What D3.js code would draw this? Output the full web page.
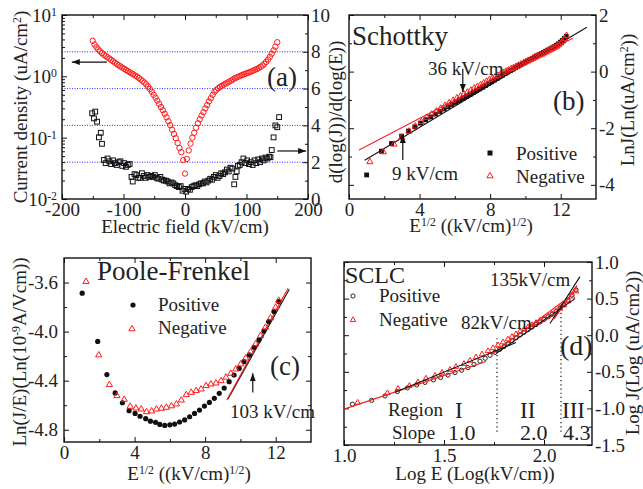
<!DOCTYPE html>
<html>
<head>
<meta charset="utf-8">
<script src="https://cdn.jsdelivr.net/npm/d3@7"></script>
<style>
  body { margin: 0; background: #fff; }
  text { font-family: "Liberation Serif", "Times New Roman", serif; fill: #222; }
</style>
</head>
<body>
<svg id="chart" width="643" height="489"></svg>
<script>
// ---------- (a) J-E and slope ----------
const aField = [-150,-147,-144,-141,-138,-135,-132,-129,-126,-123,-120,-117,-114,-111,-108,-105,-102,-99,-96,-93,-90,-87,-84,-81,-78,-75,-72,-69,-66,-63,-60,-57,-54,-51,-48,-45,-42,-39,-36,-33,-30,-27,-24,-21,-18,-15,-12,-9,-6,-3,0,
  3,6,9,12,15,18,21,24,27,30,33,36,39,42,45,48,51,54,57,60,63,66,69,72,75,78,81,84,87,90,93,96,99,102,105,108,111,114,117,120,123,126,129,132,135,138,141,144,147,150];
const aCurrent = [3.8,3.3,3.0,2.75,2.55,2.4,2.25,2.15,2.05,1.95,1.85,1.76,1.67,1.59,1.52,1.45,1.39,1.33,1.27,1.22,1.17,1.12,1.08,1.03,0.99,0.94,0.89,0.84,0.79,0.74,0.68,0.62,0.56,0.5,0.45,0.4,0.355,0.315,0.28,0.245,0.215,0.185,0.16,0.135,0.115,0.098,0.082,0.068,0.058,0.043,0.026,
  0.045,0.062,0.08,0.1,0.12,0.145,0.172,0.2,0.23,0.26,0.3,0.34,0.39,0.44,0.5,0.56,0.6,0.64,0.67,0.7,0.73,0.76,0.79,0.82,0.85,0.89,0.93,0.96,0.99,1.02,1.05,1.08,1.11,1.14,1.17,1.2,1.24,1.28,1.32,1.37,1.43,1.5,1.6,1.72,1.88,2.08,2.34,2.65,3.05,3.6];
const aSlopeField = [-151,-148,-146,-143,-140,-137,-135,-132,-129,-126,-123,-120,-117,-114,-111,-108,-105,-102,-99,-96,-93,-90,-87,-85,-82,-79,-76,-73,-70,-67,-64,-61,-58,-55,-52,-49,-46,-43,-40,-37,-34,-31,-28,-25,-22,-19,-16,-13,-10,-7,-4,-1,
  2,5,8,11,14,17,20,23,26,29,32,35,38,41,44,47,50,53,56,59,62,65,68,71,74,77,80,82,84,86,89,92,95,98,101,104,107,110,113,116,119,122,125,128,131,134,137,139,141,144,147,150,153];
const aSlope = [4.66,4.38,4.75,4.2,3.35,3.6,3.0,2.12,1.95,2.2,2.05,1.9,2.1,1.95,1.85,2.0,2.05,1.8,1.95,1.75,1.85,1.9,1.2,0.95,1.35,1.3,1.15,1.15,1.4,1.25,1.15,1.3,1.2,1.25,1.2,1.3,1.15,1.1,1.2,1.05,1.0,1.0,0.95,0.85,0.9,0.85,0.75,0.7,0.65,0.7,0.45,0.55,
  0.4,0.55,0.5,0.65,0.7,0.75,0.7,0.8,0.85,0.85,0.95,0.9,1.0,1.1,1.05,1.2,1.3,1.15,1.25,1.4,1.35,1.45,1.6,1.5,1.7,1.65,0.8,1.2,1.5,1.8,1.85,2.0,2.2,1.95,2.1,1.9,2.0,1.85,2.1,1.95,2.15,2.0,2.2,2.1,2.25,2.2,2.3,2.27,2.66,3.35,4.0,3.9,4.45,4.6];
const aGridValues = [2, 4, 6, 8];

// ---------- (b) Schottky ----------
const bPosX = [1.0,1.84,2.41,2.98,3.37,3.73,4.05,4.35,4.63,4.9,5.15,5.39,5.62,5.84,6.06,6.27,6.47,6.67,6.86,7.05,7.23,7.41,7.58,7.75,7.92,8.08,8.24,8.4,8.55,8.7,8.85,9.0,9.15,9.3,9.44,9.58,9.72,9.86,10.0,10.13,10.26,10.39,10.52,10.65,10.78,10.9,11.03,11.15,11.27,11.39,11.51,11.63,11.75,11.86,11.98,12.09,12.2,12.31];
const bPosY = [-3.65,-2.81,-2.54,-2.28,-2.1,-1.95,-1.82,-1.7,-1.6,-1.5,-1.41,-1.32,-1.24,-1.16,-1.09,-1.02,-0.95,-0.88,-0.81,-0.74,-0.67,-0.61,-0.55,-0.49,-0.42,-0.36,-0.3,-0.24,-0.18,-0.12,-0.07,-0.01,0.04,0.09,0.14,0.19,0.24,0.29,0.34,0.38,0.43,0.47,0.52,0.56,0.6,0.64,0.68,0.72,0.76,0.8,0.84,0.88,0.93,0.98,1.04,1.1,1.17,1.25];
const bNegX = [1.18,1.94,2.55,2.98,3.4,3.76,4.1,4.4,4.68,4.95,5.2,5.44,5.67,5.9,6.11,6.32,6.52,6.72,6.91,7.1,7.28,7.46,7.63,7.8,7.96,8.12,8.28,8.44,8.59,8.74,8.89,9.04,9.19,9.33,9.47,9.61,9.75,9.89,10.02,10.15,10.28,10.41,10.54,10.67,10.8,10.92,11.05,11.17,11.29,11.41,11.53,11.65,11.77,11.88,12.0,12.11,12.22,12.33];
const bNegY = [-3.16,-2.81,-2.54,-2.3,-2.08,-1.9,-1.74,-1.6,-1.48,-1.37,-1.27,-1.17,-1.08,-0.99,-0.91,-0.84,-0.77,-0.7,-0.63,-0.56,-0.5,-0.44,-0.38,-0.32,-0.26,-0.21,-0.16,-0.11,-0.06,-0.01,0.04,0.08,0.13,0.17,0.21,0.25,0.29,0.33,0.37,0.41,0.45,0.49,0.53,0.57,0.61,0.64,0.68,0.72,0.76,0.8,0.84,0.88,0.92,0.97,1.03,1.1,1.19,1.3];
const bFitPos = [[0.89, -3.13], [13.48, 1.57]];
const bFitNeg = [[0.57, -2.77], [12.68, 1.18]];

// ---------- (c) Poole-Frenkel ----------
const cPosX = [1.03,1.91,2.43,2.9,3.31,3.69,4.03,4.31,4.63,4.9,5.19,5.43,5.71,6.0,6.27,6.55,6.84,7.12,7.4,7.68,7.96,8.24,8.52,8.8,9.08,9.36,9.64,9.93,10.2,10.5,10.77,11.05,11.33,11.6,11.9,12.17];
const cPosY = [-3.687,-4.08,-4.35,-4.5,-4.58,-4.645,-4.667,-4.69,-4.71,-4.73,-4.74,-4.757,-4.765,-4.76,-4.754,-4.737,-4.72,-4.694,-4.667,-4.64,-4.607,-4.577,-4.544,-4.503,-4.46,-4.408,-4.354,-4.3,-4.245,-4.19,-4.128,-4.068,-3.995,-3.918,-3.837,-3.755];
const cNegX = [1.25,1.97,2.57,3.0,3.41,3.75,4.08,4.38,4.68,4.96,5.24,5.52,5.8,6.09,6.37,6.65,6.93,7.21,7.49,7.77,8.05,8.33,8.61,8.9,9.18,9.46,9.74,10.02,10.3,10.58,10.86,11.14,11.42,11.7,11.99,12.17];
const cNegY = [-3.586,-4.185,-4.427,-4.517,-4.547,-4.604,-4.618,-4.626,-4.648,-4.642,-4.626,-4.62,-4.612,-4.6,-4.585,-4.553,-4.509,-4.49,-4.476,-4.463,-4.435,-4.422,-4.414,-4.395,-4.367,-4.335,-4.3,-4.258,-4.21,-4.158,-4.095,-4.027,-3.959,-3.883,-3.796,-3.74];
const cFitPos = [[9.29, -4.552], [12.77, -3.654]];
const cFitNeg = [[9.23, -4.558], [12.70, -3.646]];

// ---------- (d) SCLC ----------
const dPosX = [1.042,1.138,1.205,1.267,1.317,1.363,1.405,1.447,1.483,1.52,1.555,1.588,1.62,1.65,1.68,1.706,1.73,1.755,1.778,1.8,1.82,1.84,1.86,1.88,1.9,1.92,1.94,1.96,1.98,2.0,2.02,2.04,2.06,2.08,2.1,2.12,2.14,2.16];
const dPosY = [-0.943,-0.89,-0.83,-0.77,-0.72,-0.68,-0.645,-0.61,-0.578,-0.545,-0.51,-0.478,-0.443,-0.4,-0.355,-0.315,-0.275,-0.235,-0.195,-0.155,-0.115,-0.075,-0.035,0.005,0.04,0.075,0.11,0.145,0.18,0.215,0.25,0.285,0.325,0.37,0.42,0.48,0.55,0.62];
const dNegX = [1.068,1.217,1.27,1.327,1.37,1.41,1.455,1.49,1.53,1.56,1.6,1.63,1.66,1.69,1.72,1.745,1.77,1.795,1.82,1.84,1.86,1.88,1.9,1.92,1.94,1.96,1.98,2.0,2.02,2.04,2.06,2.08,2.1,2.12,2.14,2.16];
const dNegY = [-0.91,-0.78,-0.72,-0.68,-0.63,-0.58,-0.54,-0.5,-0.46,-0.42,-0.38,-0.335,-0.29,-0.25,-0.205,-0.165,-0.125,-0.085,-0.045,-0.01,0.025,0.06,0.09,0.12,0.15,0.18,0.21,0.24,0.27,0.3,0.335,0.375,0.42,0.475,0.54,0.61];
const dFitsRed = [[[1.0, -1.01], [1.71, -0.36]], [[1.74, -0.26], [2.1, 0.47]], [[2.05, 0.22], [2.165, 0.68]]];
const dFitsBlack = [[[1.255, -0.78], [1.86, -0.1]], [[1.76, -0.25], [2.155, 0.5]], [[2.03, 0.16], [2.18, 0.8]]];
const dRegionBounds = [[1.765, -0.04, -1.36], [2.085, 0.42, -1.36]];

const FONT = '"Liberation Serif", "Times New Roman", serif';
const RED = '#ff1a1a';
const svg = d3.select('#chart');

svg.append('defs').append('marker')
    .attr('id', 'head')
    .attr('viewBox', '0 0 8 6')
    .attr('refX', 8).attr('refY', 3)
    .attr('markerWidth', 8).attr('markerHeight', 6)
    .attr('markerUnits', 'userSpaceOnUse')
    .attr('orient', 'auto')
  .append('path').attr('d', 'M0,0L8,3L0,6Z').attr('fill', '#111');

// ticks on all four sides, pointing inward
function drawFrame (x, yl, yr, cfg) {
  const [l, r] = x.range();
  const [b, t] = yl.range();
  const g = svg.append('g');
  const put = (axis, tr, vals, size, fmt, pad) => {
    g.append('g').attr('transform', tr)
      .call(axis.tickValues(vals).tickSize(size).tickSizeOuter(0).tickPadding(pad || 3)
        .tickFormat(fmt || (() => '')))
      .call(s => s.select('.domain').remove())
      .attr('font-family', FONT).attr('font-size', 19).attr('color', '#111');
  };
  put(d3.axisBottom(x), `translate(0,${b})`, cfg.xMajor, -5, cfg.xFmt, 3);
  put(d3.axisBottom(x), `translate(0,${b})`, cfg.xMinor, -3);
  put(d3.axisTop(x), `translate(0,${t})`, cfg.xMajor, -5);
  put(d3.axisTop(x), `translate(0,${t})`, cfg.xMinor, -3);
  put(d3.axisLeft(yl), `translate(${l},0)`, cfg.ylMajor, -5, cfg.ylFmt, 6);
  put(d3.axisLeft(yl), `translate(${l},0)`, cfg.ylMinor, -3);
  put(d3.axisRight(yr), `translate(${r},0)`, cfg.yrMajor, -5, cfg.yrFmt, 3);
  put(d3.axisRight(yr), `translate(${r},0)`, cfg.yrMinor, -3);
  g.append('rect')
    .attr('x', l).attr('y', t).attr('width', r - l).attr('height', b - t)
    .attr('fill', 'none').attr('stroke', '#111').attr('stroke-width', 1.4);
}

// text made of pieces, some of them superscripts
function rich (x, y, parts, size, rotate, anchor) {
  const t = svg.append('text')
    .attr('transform', `translate(${x},${y})` + (rotate ? ' rotate(-90)' : ''))
    .attr('text-anchor', anchor || 'middle')
    .attr('font-size', size);
  parts.forEach(p => {
    if (typeof p === 'string') t.append('tspan').text(p);
    else t.append('tspan').attr('baseline-shift', 'super').attr('font-size', size * 0.62).text(p.sup);
  });
  return t;
}
function label (x, y, s, size, anchor) {
  return svg.append('text').attr('x', x).attr('y', y).attr('font-size', size)
    .attr('text-anchor', anchor || 'start').text(s);
}
function arrow (x1, y1, x2, y2) {
  svg.append('line').attr('x1', x1).attr('y1', y1).attr('x2', x2).attr('y2', y2)
    .attr('stroke', '#111').attr('stroke-width', 1.2).attr('marker-end', 'url(#head)');
}
function fitLine (x, y, pts, color) {
  svg.append('line')
    .attr('x1', x(pts[0][0])).attr('y1', y(pts[0][1]))
    .attr('x2', x(pts[1][0])).attr('y2', y(pts[1][1]))
    .attr('stroke', color).attr('stroke-width', 1.1);
}
const tri = d3.symbol(d3.symbolTriangle, 17);
function triangles (x, y, xs, ys, size) {
  const s = d3.symbol(d3.symbolTriangle, size || 17);
  svg.append('g').selectAll('path').data(xs).join('path')
    .attr('d', s)
    .attr('transform', (d, i) => `translate(${x(d)},${y(ys[i]) + 0.8})`)
    .attr('fill', 'none').attr('stroke', RED).attr('stroke-width', 1);
}
const minus = d => String(d).replace('\u2212', '-');

// ================= panel (a) =================
const ax = d3.scaleLinear().domain([-200, 200]).range([62, 308]);
const ayL = d3.scaleLog().domain([0.01, 10]).range([199, 15]);
const ayR = d3.scaleLinear().domain([0, 10]).range([199, 15]);
let logMinor = [];
[0.01, 0.1, 1].forEach(dec => [2, 3, 4, 5, 6, 7, 8, 9].forEach(m => logMinor.push(dec * m)));

svg.append('g').selectAll('line').data(aGridValues).join('line')
    .attr('x1', ax(-200)).attr('x2', ax(200))
    .attr('y1', d => ayR(d)).attr('y2', d => ayR(d))
    .attr('stroke', '#2a2aff').attr('stroke-width', 1).attr('stroke-dasharray', '1,1.5');

drawFrame(ax, ayL, ayR, {
  xMajor: [-200, -100, 0, 100, 200], xMinor: [-150, -50, 50, 150], xFmt: minus,
  ylMajor: [0.01, 0.1, 1, 10], ylMinor: logMinor,
  yrMajor: [0, 2, 4, 6, 8, 10], yrMinor: [1, 3, 5, 7, 9], yrFmt: d => d
});
[0.01, 0.1, 1, 10].forEach(v => {
  rich(57, ayL(v) + 7, ['10', { sup: String(Math.round(Math.log10(v))) }], 19, false, 'end');
});

svg.append('g').selectAll('rect').data(aSlopeField).join('rect')
    .attr('x', d => ax(d) - 2.4)
    .attr('y', (d, i) => ayR(aSlope[i]) - 2.4)
    .attr('width', 4.8).attr('height', 4.8)
    .attr('fill', 'none').attr('stroke', '#111').attr('stroke-width', 1);
svg.append('g').selectAll('circle').data(aField).join('circle')
    .attr('cx', d => ax(d))
    .attr('cy', (d, i) => ayL(aCurrent[i]))
    .attr('r', 2.7)
    .attr('fill', 'none').attr('stroke', RED).attr('stroke-width', 1);

arrow(ax(-127), ayL(1.71), ax(-184), ayL(1.71));
arrow(ax(150), ayR(2.61), ax(197), ayR(2.61));
label(267, 86, '(a)', 27);
rich(27, 107, ['Current density (uA/cm', { sup: '2' }, ')'], 19, true);
rich(342, 112, ['d(log(J))/d(log(E))'], 19, true);
rich(185, 233, ['Electric field (kV/cm)'], 19);

// ================= panel (b) =================
const bx = d3.scaleLinear().domain([0, 14]).range([349, 596]);
const by = d3.scaleLinear().domain([-4.5, 2]).range([199, 15]);
drawFrame(bx, by, by, {
  xMajor: [0, 4, 8, 12], xMinor: [2, 6, 10], xFmt: d => d,
  ylMajor: [-4, -2, 0, 2], ylMinor: [-3, -1, 1],
  yrMajor: [-4, -2, 0, 2], yrMinor: [-3, -1, 1], yrFmt: minus
});
fitLine(bx, by, bFitNeg, RED);
fitLine(bx, by, bFitPos, '#111');
svg.append('g').selectAll('rect').data(bPosX).join('rect')
    .attr('x', d => bx(d) - 2.4)
    .attr('y', (d, i) => by(bPosY[i]) - 2.4)
    .attr('width', 4.8).attr('height', 4.8).attr('fill', '#111');
triangles(bx, by, bNegX, bNegY, 17);
label(352, 45, 'Schottky', 27);
label(553, 110, '(b)', 27);
label(428, 75, '36 kV/cm', 19);
arrow(bx(6.45), by(0.1), bx(6.45), by(-0.72));
label(392, 180, '9 kV/cm', 19);
arrow(bx(3.05), by(-3.12), bx(3.05), by(-2.24));
svg.append('rect').attr('x', 487.5).attr('y', 150.5).attr('width', 5).attr('height', 5).attr('fill', '#111');
svg.append('path').attr('d', tri).attr('transform', 'translate(490,176)')
    .attr('fill', 'none').attr('stroke', RED);
label(516, 160, 'Positive', 19);
label(516, 183, 'Negative', 19);
rich(634, 100, ['LnJ(Ln(uA/cm', { sup: '2' }, '))'], 19, true);
rich(471, 232, ['E', { sup: '1/2' }, ' ((kV/cm)', { sup: '1/2' }, ')'], 19);

// ================= panel (c) =================
const cx = d3.scaleLinear().domain([0, 14]).range([64, 311]);
const cy = d3.scaleLinear().domain([-4.9, -3.4]).range([442, 258]);
drawFrame(cx, cy, cy, {
  xMajor: [0, 4, 8, 12], xMinor: [2, 6, 10], xFmt: d => d,
  ylMajor: [-4.8, -4.4, -4.0, -3.6], ylMinor: [-4.6, -4.2, -3.8], ylFmt: d => d.toFixed(1),
  yrMajor: [-4.8, -4.4, -4.0, -3.6], yrMinor: [-4.6, -4.2, -3.8]
});
fitLine(cx, cy, cFitPos, '#111');
fitLine(cx, cy, cFitNeg, RED);
svg.append('g').selectAll('circle').data(cPosX).join('circle')
    .attr('cx', d => cx(d))
    .attr('cy', (d, i) => cy(cPosY[i]))
    .attr('r', 2.6).attr('fill', '#111');
triangles(cx, cy, cNegX, cNegY, 17);
label(97, 280, 'Poole-Frenkel', 27);
svg.append('circle').attr('cx', 133).attr('cy', 305).attr('r', 2.6).attr('fill', '#111');
svg.append('path').attr('d', tri).attr('transform', 'translate(132,329)')
    .attr('fill', 'none').attr('stroke', RED);
label(158, 311, 'Positive', 19);
label(158, 334, 'Negative', 19);
label(270, 375, '(c)', 27);
label(230, 418, '103 kV/cm', 19);
arrow(cx(10.7), cy(-4.497), cx(10.7), cy(-4.34));
rich(26, 352, ['Ln(J/E)(Ln(10', { sup: '-9' }, 'A/Vcm))'], 19, true);
rich(189, 480, ['E', { sup: '1/2' }, ' ((kV/cm)', { sup: '1/2' }, ')'], 19);

// ================= panel (d) =================
const dx = d3.scaleLinear().domain([1.0, 2.24]).range([344, 592]);
const dy = d3.scaleLinear().domain([-1.5, 1.0]).range([445, 262]);
drawFrame(dx, dy, dy, {
  xMajor: [1.0, 1.5, 2.0], xMinor: [1.25, 1.75], xFmt: d => d.toFixed(1),
  ylMajor: [-1.5, -1, -0.5, 0, 0.5, 1], ylMinor: [-1.25, -0.75, -0.25, 0.25, 0.75],
  yrMajor: [-1.5, -1, -0.5, 0, 0.5, 1], yrMinor: [-1.25, -0.75, -0.25, 0.25, 0.75],
  yrFmt: d => d.toFixed(1)
});
svg.append('g').selectAll('line').data(dRegionBounds).join('line')
    .attr('x1', d => dx(d[0])).attr('x2', d => dx(d[0]))
    .attr('y1', d => dy(d[1])).attr('y2', d => dy(d[2]))
    .attr('stroke', '#111').attr('stroke-width', 1.2).attr('stroke-dasharray', '1.2,3');
svg.append('g').selectAll('circle').data(dPosX).join('circle')
    .attr('cx', d => dx(d))
    .attr('cy', (d, i) => dy(dPosY[i]))
    .attr('r', 2.1).attr('fill', 'none').attr('stroke', '#111').attr('stroke-width', 0.9);
triangles(dx, dy, dNegX, dNegY, 13);
dFitsRed.forEach(p => fitLine(dx, dy, p, RED));
dFitsBlack.forEach(p => fitLine(dx, dy, p, '#111'));
label(345, 283, 'SCLC', 24);
svg.append('circle').attr('cx', 353).attr('cy', 296).attr('r', 2.1)
    .attr('fill', 'none').attr('stroke', '#111').attr('stroke-width', 0.9);
svg.append('path').attr('d', d3.symbol(d3.symbolTriangle, 13)).attr('transform', 'translate(353,320)')
    .attr('fill', 'none').attr('stroke', RED);
label(379, 302, 'Positive', 19);
label(379, 326, 'Negative', 19);
label(461, 329, '82kV/cm', 19);
label(490, 286, '135kV/cm', 19);
label(560, 355, '(d)', 28);
label(388, 416, 'Region', 19);
label(455, 418, 'I', 23);
label(520, 418, 'II', 23);
label(562, 418, 'III', 23);
label(392, 439, 'Slope', 19);
label(448, 440, '1.0', 22);
label(520, 440, '2.0', 22);
label(563, 440, '4.3', 22);
rich(639, 353, ['Log J(Log (uA/cm2))'], 19, true);
rich(475, 480, ['Log E (Log(kV/cm))'], 19);
</script>
</body>
</html>
